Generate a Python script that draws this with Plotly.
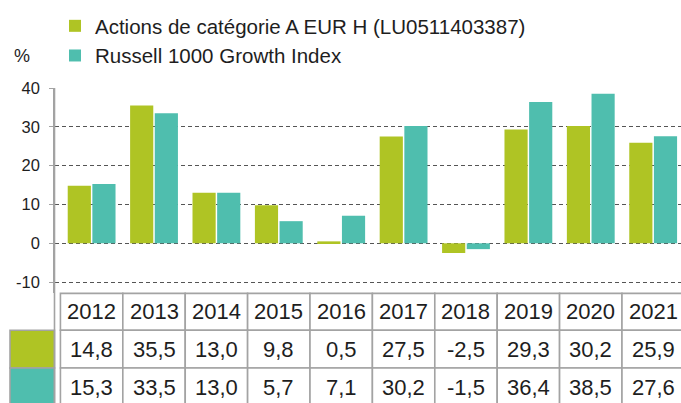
import plotly.graph_objects as go

# ---- data ----
years = ["2012", "2013", "2014", "2015", "2016", "2017", "2018", "2019", "2020", "2021"]
fund_name = "Actions de catégorie A EUR H (LU0511403387)"
index_name = "Russell 1000 Growth Index"
fund_values = [14.8, 35.5, 13.0, 9.8, 0.5, 27.5, -2.5, 29.3, 30.2, 25.9]
index_values = [15.3, 33.5, 13.0, 5.7, 7.1, 30.2, -1.5, 36.4, 38.5, 27.6]
y_ticks = [-10, 0, 10, 20, 30, 40]
y_tick_labels = ["-10", "0", "10", "20", "30", "40"]

# ---- style ----
GREEN = "#AFC424"
TEAL = "#4FBEAE"
GRID = "#A3A3A3"
TXT = "#1E1E1E"
FONT = "Liberation Sans, Arial, sans-serif"

W, H = 681, 403
ML, MR, MT, MB = 55, 0, 88, 110
PH = H - MT - MB
PW = W - ML - MR


def py(pix):
    """pixel row -> paper y"""
    return (H - MB - pix) / PH


def px(pix):
    """pixel column -> paper x"""
    return (pix - ML) / PW


def fmt(v):
    return f"{v:.1f}".replace(".", ",")


fig = go.Figure()
fig.add_trace(go.Bar(x=years, y=fund_values, name=fund_name, marker_color=GREEN,
                     marker_line_width=0))
fig.add_trace(go.Bar(x=years, y=index_values, name=index_name, marker_color=TEAL,
                     marker_line_width=0))

shapes = []
annotations = []

# table geometry (pixel rows)
row_edges = [293.4, 330.2, 368.0, 406.0]
row_fills = [None, GREEN, TEAL]
row_texts = [years, [fmt(v) for v in fund_values], [fmt(v) for v in index_values]]
LINE = dict(color=GRID, width=1.6)

for r in range(3):
    y0, y1 = py(row_edges[r + 1]), py(row_edges[r])
    for i, txt in enumerate(row_texts[r]):
        shapes.append(dict(type="rect", xref="x", yref="paper",
                           x0=i - 0.5, x1=i + 0.5, y0=y0, y1=y1,
                           line=LINE, fillcolor="white", layer="above"))
        annotations.append(dict(x=i, xref="x", y=(y0 + y1) / 2, yref="paper",
                                text=txt, showarrow=False,
                                font=dict(size=22, color=TXT, family=FONT),
                                xanchor="center", yanchor="middle"))
    # swatch column
    if row_fills[r]:
        shapes.append(dict(type="rect", xref="paper", yref="paper",
                           x0=px(10), x1=px(54.5), y0=y0, y1=y1,
                           line=LINE, fillcolor=row_fills[r], layer="above"))

# left border of the first year column / continuation of axis line
shapes.append(dict(type="line", xref="paper", yref="paper",
                   x0=px(54.5), x1=px(54.5), y0=py(406), y1=1,
                   line=LINE, layer="above"))

annotations.append(dict(x=px(22), xref="paper", y=py(56), yref="paper", text="%",
                        showarrow=False, font=dict(size=18, color=TXT, family=FONT),
                        xanchor="center", yanchor="middle"))

fig.update_layout(
    width=W, height=H,
    margin=dict(l=ML, r=MR, t=MT, b=MB, pad=0),
    paper_bgcolor="white", plot_bgcolor="white",
    barmode="group", bargap=0.21, bargroupgap=0.06,
    font=dict(family=FONT, size=17, color=TXT),
    showlegend=True,
    legend=dict(x=px(55), y=py(6), xanchor="left", yanchor="top",
                bgcolor="rgba(0,0,0,0)", font=dict(size=20.5, color=TXT, family=FONT),
                traceorder="normal", itemclick=False),
    shapes=shapes,
    annotations=annotations,
    xaxis=dict(type="category", range=[-0.587, 9.446], showgrid=False, showline=False,
               showticklabels=False, ticks="", zeroline=False, fixedrange=True),
    yaxis=dict(range=[-12.8, 40], tickvals=y_ticks, ticktext=y_tick_labels,
               showgrid=True, gridcolor="#555555",
               griddash="4px,3px", gridwidth=1, zeroline=False,
               showline=True, linecolor=GRID, linewidth=1.6,
               ticks="outside", ticklen=4, tickcolor=GRID, tickwidth=1.2,
               ticklabelstandoff=6,
               tickfont=dict(size=16.5, color=TXT, family=FONT), fixedrange=True),
)

fig.write_html("out.html", config={"displayModeBar": False},
               post_script="document.body.style.margin='0';")
